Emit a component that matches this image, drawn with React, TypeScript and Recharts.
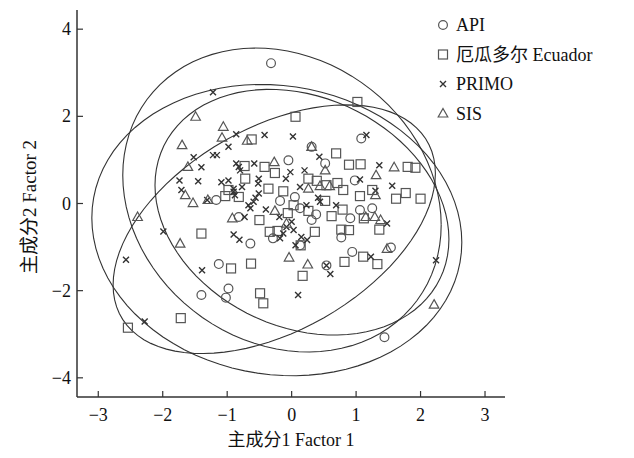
import React from 'react';
import { ScatterChart, Scatter, XAxis, YAxis } from 'recharts';

// group scores, [factor1, factor2]
const apiPoints = [
  [-0.32, 3.22], [-0.05, 0.99], [-1.17, 0.08], [-0.82, -0.31], [-0.18, 0.06], [-0.64, -0.92],
  [-0.29, -0.8], [-1.13, -1.39], [-0.98, -1.95], [-1.4, -2.1], [-1.02, -2.16], [1.08, 1.49],
  [0.31, 1.3], [0.52, 0.92], [0.98, 0.53], [0.05, 0.15], [0.13, -0.11], [0.38, -0.25],
  [0.31, -0.38], [0.91, -0.34], [1.06, -0.15], [1.25, -0.11], [0.77, -0.78], [0.94, -1.11],
  [0.54, -1.42], [1.54, -1.01], [1.44, -3.07], [0.13, -0.96],
];

const ecuadorPoints = [
  [0.06, 1.99], [1.02, 2.33], [-0.62, 1.47], [-0.73, 0.86], [-0.42, 0.84], [-0.26, 0.7],
  [-0.72, 0.57], [-0.36, 0.34], [-0.13, 0.28], [-0.98, 0.31], [-1.03, 0.17], [-0.82, 0.15],
  [-0.5, -0.38], [-0.34, -0.65], [-0.22, -0.63], [-1.4, -0.69], [-0.06, -0.22], [0.03, -0.04],
  [-0.63, -1.38], [-0.94, -1.49], [-0.49, -2.06], [-0.44, -2.29], [-1.72, -2.63], [-2.54, -2.85],
  [0.69, 1.15], [0.89, 0.89], [1.07, 0.9], [1.8, 0.84], [1.92, 0.82], [0.26, 0.57],
  [0.39, 0.52], [0.54, 0.42], [0.71, 0.47], [0.8, 0.31], [1.06, 0.17], [1.25, 0.31],
  [1.62, 0.11], [1.77, 0.24], [2.0, 0.11], [0.52, 0.06], [0.26, -0.17], [0.79, -0.14],
  [0.62, -0.29], [1.12, -0.34], [0.77, -0.6], [0.89, -0.61], [1.36, -0.6], [0.36, -0.65],
  [0.14, -0.96], [1.11, -1.22], [1.33, -1.39], [0.82, -1.34], [0.17, -1.66],
];

const primoPoints = [
  [-1.22, 2.55], [-0.86, 1.59], [-0.42, 1.57], [0.02, 1.54], [-0.98, 1.3], [-1.52, 1.06],
  [-1.4, 0.83], [-1.22, 1.11], [-1.16, 1.11], [-1.74, 0.53], [-1.45, 0.51], [-1.71, 0.31],
  [-1.09, 0.49], [-0.98, 0.53], [-0.86, 0.92], [-0.82, 0.84], [-0.8, 0.76], [-0.58, 0.92],
  [-0.51, 0.57], [-0.52, 0.46], [-0.51, 0.23], [-0.9, 0.34], [-0.77, 0.38], [-0.9, 0.27],
  [-0.88, 0.19], [-0.02, 0.72], [-0.09, 0.57], [-0.56, 0.13], [-0.59, 0.04], [-0.67, -0.04],
  [-0.64, -0.11], [-0.4, -0.14], [-0.19, -0.31], [-0.73, -0.31], [0.0, -0.42], [-0.08, -0.54],
  [-0.13, -0.69], [-0.18, -0.8], [0.03, -0.61], [-0.9, -0.71], [-0.81, -0.83], [-1.99, -0.64],
  [-1.39, -1.53], [0.06, -0.96], [-1.31, 0.08], [-2.57, -1.29], [-2.28, -2.71], [0.1, -2.1],
  [1.16, 1.57], [0.43, 1.07], [0.2, 0.76], [1.36, 0.88], [1.56, 0.41], [0.13, 0.38],
  [0.41, 0.13], [0.44, 0.04], [0.69, -0.04], [0.23, -0.04], [0.15, -0.77], [0.24, -0.84],
  [1.48, -0.46], [1.23, -1.22], [0.6, -1.62], [2.24, -1.3], [1.3, 0.29], [0.54, -1.42],
  [1.06, 0.55],
];

const sisPoints = [
  [-1.49, 1.99], [-1.06, 1.76], [-1.08, 1.51], [-1.7, 1.34], [-0.69, 1.44], [-1.61, 0.84],
  [-1.65, 0.19], [-1.53, 0.01], [-1.3, 0.08], [-0.27, 0.95], [-0.92, -0.34], [-0.26, -0.17],
  [-1.73, -0.92], [-0.04, -1.24], [-0.08, -0.46], [-2.39, -0.31], [0.52, 0.76], [1.59, 0.83],
  [1.31, 0.65], [0.26, 0.34], [0.44, 0.4], [0.59, 0.4], [1.3, 0.19], [1.29, -0.31],
  [1.15, -0.31], [1.38, -0.38], [0.25, -1.4], [1.48, -1.04], [2.21, -2.32], [0.31, 1.3],
];

// confidence ellipses: centre, conjugate half-diameters (u, v) in data units
const ellipses = [
  { cx: -0.23, cy: -0.61, ux: 2.87, uy: -0.28, vy: 3.33 },
  { cx: -0.15, cy: 0.08, ux: 2.47, uy: -0.57, vy: 3.44 },
  { cx: 0.16, cy: -0.2, ux: 2.28, uy: -0.62, vy: 2.75 },
  { cx: -0.27, cy: -0.59, ux: 2.5, uy: 1.28, vy: 2.55 },
];

const xTicks = [-3, -2, -1, 0, 1, 2, 3];
const yTicks = [-4, -2, 0, 2, 4];
const legendItems = ['API', '厄瓜多尔 Ecuador', 'PRIMO', 'SIS'];

const W = 634;
const H = 458;
const PL = 77;
const PT = 10;
const PR = 505;
const PB = 397;
const FONT = '"Liberation Serif", "Times New Roman", "Noto Sans CJK SC", serif';
const MARK = '#555';
const AXIS = '#333';

const toXY = (pts: number[][]) => pts.map(([x, y]) => ({ x, y }));

const outline = (e: typeof ellipses[number]) => {
  const out: { x: number; y: number }[] = [];
  for (let i = 0; i <= 90; i++) {
    const t = (i / 90) * Math.PI * 2;
    out.push({ x: e.cx + e.ux * Math.cos(t), y: e.cy + e.uy * Math.cos(t) + e.vy * Math.sin(t) });
  }
  return out;
};

const fmt = (v: number) => (v < 0 ? `\u2212${-v}` : `${v}`);

const Circle = ({ cx, cy }: any) => (
  <circle cx={cx} cy={cy} r={4.4} fill="none" stroke={MARK} strokeWidth={1.2} />
);
const Square = ({ cx, cy }: any) => (
  <rect x={cx - 4.5} y={cy - 4.5} width={9} height={9} fill="none" stroke={MARK} strokeWidth={1.2} />
);
const Cross = ({ cx, cy }: any) => (
  <path d={`M${cx - 3} ${cy - 3}L${cx + 3} ${cy + 3}M${cx - 3} ${cy + 3}L${cx + 3} ${cy - 3}`} stroke="#333" strokeWidth={1.4} />
);
const Triangle = ({ cx, cy }: any) => (
  <path d={`M${cx} ${cy - 5}L${cx + 4.8} ${cy + 3.5}L${cx - 4.8} ${cy + 3.5}Z`} fill="none" stroke={MARK} strokeWidth={1.2} />
);
const NoShape = () => <g />;

const XTick = ({ x, payload }: any) => (
  <g>
    <line x1={x} y1={PB} x2={x} y2={PB - 6} stroke={AXIS} strokeWidth={1.2} />
    <text x={x} y={PB + 24} textAnchor="middle" fontSize={18} fontFamily={FONT} fill="#111">
      {fmt(payload.value)}
    </text>
  </g>
);

const YTick = ({ y, payload }: any) => (
  <g>
    <line x1={PL} y1={y} x2={PL + 6} y2={y} stroke={AXIS} strokeWidth={1.2} />
    <text x={PL - 6} y={y + 6} textAnchor="end" fontSize={18} fontFamily={FONT} fill="#111">
      {fmt(payload.value)}
    </text>
  </g>
);

const legendShapes = [Circle, Square, Cross, Triangle];

export default function App() {
  return (
    <div style={{ position: 'absolute', left: 0, top: 0, width: W, height: H, background: '#fff' }}>
      <ScatterChart
        width={W}
        height={H}
        margin={{ top: PT, right: W - PR, bottom: H - PB - 30, left: PL - 60 }}
      >
        <XAxis
          type="number"
          dataKey="x"
          domain={[-3.33, 3.31]}
          ticks={xTicks}
          allowDataOverflow
          height={30}
          tickLine={false}
          tick={<XTick />}
          axisLine={{ stroke: AXIS, strokeWidth: 1.5 }}
        />
        <YAxis
          type="number"
          dataKey="y"
          domain={[-4.44, 4.44]}
          ticks={yTicks}
          allowDataOverflow
          width={60}
          tickLine={false}
          tick={<YTick />}
          axisLine={{ stroke: AXIS, strokeWidth: 1.5 }}
        />
        {ellipses.map((e, i) => (
          <Scatter
            key={`e${i}`}
            data={outline(e)}
            line={{ stroke: '#333', strokeWidth: 1.1 }}
            lineType="joint"
            shape={<NoShape />}
            isAnimationActive={false}
            legendType="none"
          />
        ))}
        <Scatter name="API" data={toXY(apiPoints)} shape={<Circle />} isAnimationActive={false} />
        <Scatter name="Ecuador" data={toXY(ecuadorPoints)} shape={<Square />} isAnimationActive={false} />
        <Scatter name="PRIMO" data={toXY(primoPoints)} shape={<Cross />} isAnimationActive={false} />
        <Scatter name="SIS" data={toXY(sisPoints)} shape={<Triangle />} isAnimationActive={false} />
      </ScatterChart>
      <svg width={W} height={H} style={{ position: 'absolute', left: 0, top: 0, pointerEvents: 'none' }}>
        {legendItems.map((name, i) => {
          const Shape = legendShapes[i];
          const cy = 25 + i * 29.5;
          return (
            <g key={name}>
              <Shape cx={443} cy={cy} />
              <text x={456} y={cy + 6} fontSize={18} fontFamily={FONT} fill="#111">{name}</text>
            </g>
          );
        })}
        <text x={291} y={446} textAnchor="middle" fontSize={18} fontFamily={FONT} fill="#111">
          主成分1 Factor 1
        </text>
        <text
          transform="translate(36 207) rotate(-90)"
          textAnchor="middle"
          fontSize={19}
          fontFamily={FONT}
          fill="#111"
        >
          主成分2 Factor 2
        </text>
      </svg>
    </div>
  );
}
